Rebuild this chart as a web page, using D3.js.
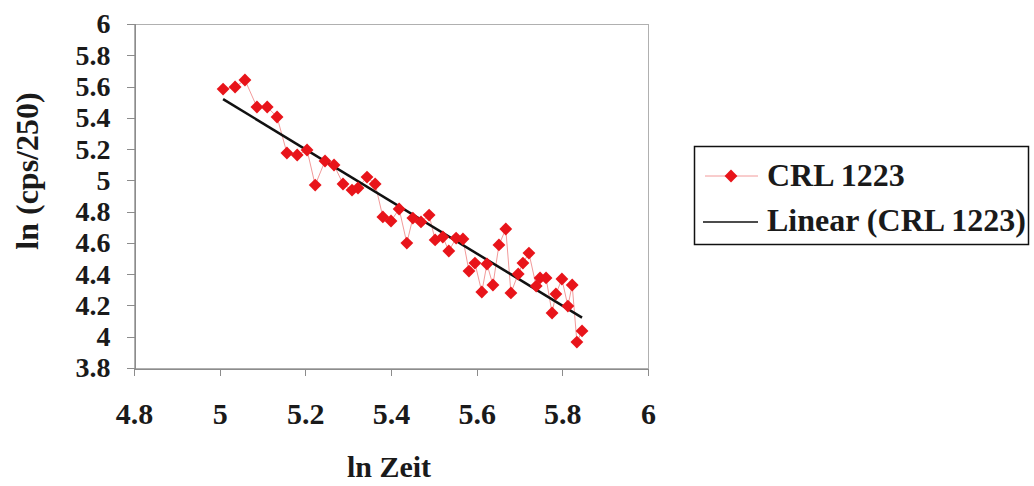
<!DOCTYPE html>
<html lang="de">
<head>
<meta charset="UTF-8">
<title>CRL 1223</title>
<style>
  body { margin: 0; background: #fff; }
  svg text { font-family: "Liberation Serif", "Times New Roman", serif; font-weight: bold; fill: #1a1a1a; }
  .axis path, .axis line { stroke: #8c8c8c; shape-rendering: crispEdges; }
  .frame { fill: none; stroke: #b0b0b0; shape-rendering: crispEdges; }
</style>
</head>
<body>
<script src="https://cdnjs.cloudflare.com/ajax/libs/d3/7.8.5/d3.min.js"></script>
<script>
// ln Zeit
var lnZeit = [5.008, 5.036, 5.059, 5.087, 5.111, 5.134, 5.157, 5.181, 5.204, 5.223,
              5.246, 5.267, 5.288, 5.309, 5.323, 5.344, 5.363, 5.381, 5.400, 5.419,
              5.437, 5.451, 5.470, 5.489, 5.503, 5.521, 5.535, 5.552, 5.568, 5.582,
              5.596, 5.612, 5.624, 5.638, 5.652, 5.668, 5.680, 5.697, 5.708, 5.722,
              5.739, 5.748, 5.762, 5.776, 5.785, 5.799, 5.813, 5.823, 5.834, 5.846];
// ln (cps/250)
var lnCps = [5.584, 5.597, 5.642, 5.469, 5.469, 5.405, 5.175, 5.162, 5.194, 4.970,
             5.124, 5.098, 4.977, 4.938, 4.951, 5.021, 4.977, 4.766, 4.740, 4.817,
             4.599, 4.759, 4.734, 4.778, 4.619, 4.638, 4.548, 4.631, 4.625, 4.420,
             4.471, 4.286, 4.465, 4.331, 4.587, 4.689, 4.280, 4.401, 4.471, 4.535,
             4.324, 4.376, 4.376, 4.152, 4.273, 4.369, 4.196, 4.331, 3.966, 4.037];
var xTicks = [4.8, 5, 5.2, 5.4, 5.6, 5.8, 6];
var yTicks = [3.8, 4, 4.2, 4.4, 4.6, 4.8, 5, 5.2, 5.4, 5.6, 5.8, 6];
var seriesName = "CRL 1223";

var W = 1034, H = 486;
var plot = {left: 134, top: 24, right: 648, bottom: 368};

var svg = d3.select("body").append("svg")
    .attr("width", W).attr("height", H);

var x = d3.scaleLinear().domain([4.8, 6]).range([plot.left, plot.right]);
var y = d3.scaleLinear().domain([3.8, 6]).range([plot.bottom, plot.top]);

// plot frame
svg.append("rect").attr("class", "frame")
    .attr("x", plot.left + 0.5).attr("y", plot.top + 0.5)
    .attr("width", plot.right - plot.left).attr("height", plot.bottom - plot.top);

var xAxis = svg.append("g").attr("class", "axis")
    .attr("transform", "translate(0," + (plot.bottom + 0.5) + ")")
    .call(d3.axisBottom(x).tickValues(xTicks).tickSize(7).tickPadding(27).tickFormat(d3.format("")));
xAxis.selectAll("text").attr("font-size", 30).attr("fill", "#1a1a1a");

var yAxis = svg.append("g").attr("class", "axis")
    .attr("transform", "translate(" + (plot.left + 0.5) + ",0)")
    .call(d3.axisLeft(y).tickValues(yTicks).tickSize(8).tickPadding(16).tickFormat(d3.format("")));
yAxis.selectAll("text").attr("font-size", 28).attr("fill", "#1a1a1a");
svg.selectAll(".axis .domain").attr("stroke", "#8c8c8c");

// axis titles
svg.append("text").attr("x", (plot.left + plot.right) / 2 - 2).attr("y", 477)
    .attr("text-anchor", "middle").attr("font-size", 30).text("ln Zeit");
svg.append("text").attr("transform", "translate(38,171) rotate(-90)")
    .attr("text-anchor", "middle").attr("font-size", 32).text("ln (cps/250)");

var data = lnZeit.map(function (d, i) { return {x: d, y: lnCps[i]}; });

// connecting line
svg.append("path").datum(data)
    .attr("fill", "none").attr("stroke", "#f29a9a").attr("stroke-width", 1)
    .attr("d", d3.line().x(function (d) { return x(d.x); }).y(function (d) { return y(d.y); }));

// linear trend (least squares)
var mx = d3.mean(lnZeit), my = d3.mean(lnCps);
var sxy = d3.sum(data, function (d) { return (d.x - mx) * (d.y - my); });
var sxx = d3.sum(data, function (d) { return (d.x - mx) * (d.x - mx); });
var slope = sxy / sxx, icpt = my - slope * mx;
var xr = d3.extent(lnZeit);
svg.append("line")
    .attr("x1", x(xr[0])).attr("y1", y(icpt + slope * xr[0]))
    .attr("x2", x(xr[1])).attr("y2", y(icpt + slope * xr[1]))
    .attr("stroke", "#111").attr("stroke-width", 2.5);

var diamond = d3.symbol().type(d3.symbolDiamond2).size(105);
svg.append("g").selectAll("path").data(data).join("path")
    .attr("transform", function (d) { return "translate(" + x(d.x) + "," + y(d.y) + ")"; })
    .attr("d", diamond).attr("fill", "#e8141a");

// legend
var lg = svg.append("g");
lg.append("rect").attr("x", 694.5).attr("y", 146.5).attr("width", 334).attr("height", 98)
    .attr("fill", "none").attr("stroke", "#111").attr("stroke-width", 1.5);
lg.append("line").attr("x1", 705).attr("x2", 758).attr("y1", 176).attr("y2", 176)
    .attr("stroke", "#f29a9a").attr("stroke-width", 1);
lg.append("path").attr("transform", "translate(731,176)").attr("d", diamond).attr("fill", "#e8141a");
lg.append("line").attr("x1", 703).attr("x2", 758).attr("y1", 222).attr("y2", 222)
    .attr("stroke", "#111").attr("stroke-width", 1.5);
lg.append("text").attr("x", 767).attr("y", 186).attr("font-size", 32).text(seriesName);
lg.append("text").attr("x", 767).attr("y", 231).attr("font-size", 32).text("Linear (" + seriesName + ")");
</script>
</body>
</html>
